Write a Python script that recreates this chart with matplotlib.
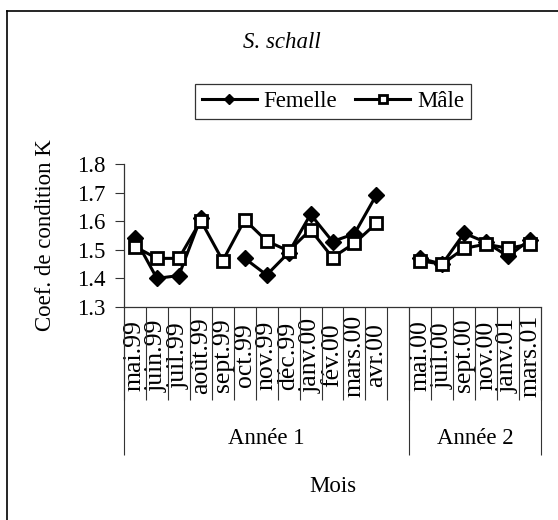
import numpy as np
import matplotlib
matplotlib.use("Agg")
import matplotlib.pyplot as plt
from matplotlib.lines import Line2D

plt.rcParams['font.family'] = ['Liberation Serif', 'DejaVu Serif']

# ---- data ----
months_y1 = ["mai.99", "juin.99", "juil.99", "août.99", "sept.99", "oct.99",
             "nov.99", "déc.99", "janv.00", "fév.00", "mars.00", "avr.00"]
months_y2 = ["mai.00", "juil.00", "sept.00", "nov.00", "janv.01", "mars.01"]
groups = ["Année 1", "Année 2"]

femelle_y1 = [1.54, 1.40, 1.41, 1.612, np.nan, 1.47, 1.412, 1.49, 1.624, 1.529, 1.556, 1.692]
femelle_y2 = [1.47, 1.45, 1.558, 1.526, 1.477, 1.536]
male_y1 = [1.511, 1.47, 1.47, 1.602, 1.462, 1.605, 1.531, 1.496, 1.57, 1.473, 1.523, 1.593]
male_y2 = [1.461, 1.45, 1.505, 1.52, 1.505, 1.52]

yticks = [1.3, 1.4, 1.5, 1.6, 1.7, 1.8]

# ---- layout ----
W, H = 558, 520
fig = plt.figure(figsize=(W / 100, H / 100), dpi=100)
ax_l, ax_r, ax_t, ax_b = 124, 541, 164, 307
ax = fig.add_axes([ax_l / W, 1 - ax_b / H, (ax_r - ax_l) / W, (ax_b - ax_t) / H])

FS = 16.5
FS_CAT = 18.5
n1, n2 = len(months_y1), len(months_y2)
x1 = np.arange(n1)
x2 = np.arange(n2) + n1 + 1  # one blank category between years
ncat = n1 + 1 + n2

lw = 2.2
ax.plot(x1, femelle_y1, color='black', lw=lw, marker='D', ms=8.0,
        mfc='black', mec='black', mew=1.0, zorder=3, label='Femelle')
ax.plot(x2, femelle_y2, color='black', lw=lw, marker='D', ms=8.0,
        mfc='black', mec='black', mew=1.0, zorder=3)
ax.plot(x1, male_y1, color='black', lw=lw, marker='s', ms=8.3,
        mfc='white', mec='black', mew=2.0, zorder=4, label='Mâle')
ax.plot(x2, male_y2, color='black', lw=lw, marker='s', ms=8.3,
        mfc='white', mec='black', mew=2.0, zorder=4)

ax.set_xlim(-0.5, ncat - 0.5)
ax.set_ylim(yticks[0], yticks[-1])
ax.set_yticks(yticks)
ax.set_yticklabels([f"{v:.1f}" for v in yticks], fontsize=FS)
ax.tick_params(axis='y', direction='out', length=6.5, width=0.8, pad=7, color='#333333')

for s in ['top', 'right']:
    ax.spines[s].set_visible(False)
for s in ['left', 'bottom']:
    ax.spines[s].set_color('#333333')
    ax.spines[s].set_linewidth(0.9)

# category labels (major ticks at centres, centred in the label band)
band_px = 93
ax.set_xticks(list(x1) + list(x2))
ax.set_xticklabels(months_y1 + months_y2, rotation=90, fontsize=FS_CAT)
ax.tick_params(axis='x', which='major', length=0, pad=(band_px / 2 + 2) * 0.72)
for lab in ax.get_xticklabels():
    lab.set_va('center')
# separators (minor ticks at boundaries)
ax.set_xticks(np.arange(ncat + 1) - 0.5, minor=True)
ax.tick_params(axis='x', which='minor', direction='out', length=band_px * 0.72,
               width=0.8, color='#333333')

# group separators via secondary axis
sec = ax.secondary_xaxis('bottom')
sec.set_xticks([-0.5, n1 + 0.5, ncat - 0.5])
sec.set_xticklabels([])
sec.tick_params(axis='x', direction='out', length=148 * 0.72, width=0.8, color='#333333')
sec.spines['bottom'].set_visible(False)

# group labels
axh = ax_b - ax_t
centres = [(-0.5 + n1 + 0.5) / 2, (n1 + 0.5 + ncat - 0.5) / 2]
for g, c in zip(groups, centres):
    ax.text(c, -(438 - ax_b) / axh, g, transform=ax.get_xaxis_transform(),
            ha='center', va='center', fontsize=FS)

ax.text(0.5, -(486 - ax_b) / axh, "Mois", transform=ax.transAxes,
        ha='center', va='center', fontsize=FS)

ax.set_ylabel("Coef. de condition K", fontsize=FS)
ax.yaxis.set_label_coords(-(ax_l - 46) / (ax_r - ax_l), 0.5)
ax.yaxis.label.set_va('center')

# title
fig.text(282 / W, 1 - 43 / H, "S. schall", style='italic', fontsize=FS,
         ha='center', va='center')

# legend
leg = fig.legend(loc='center', bbox_to_anchor=(333 / W, 1 - 101.5 / H), ncol=2,
                 fontsize=FS, frameon=True, fancybox=False, handlelength=2.4,
                 handletextpad=0.3, columnspacing=0.8, borderpad=0.3,
                 borderaxespad=0, markerscale=0.7)
leg.get_frame().set_edgecolor('black')
leg.get_frame().set_linewidth(0.9)

# outer frame (top and left edges visible)
fig.add_artist(Line2D([7 / W, 1.0], [1 - 11 / H, 1 - 11 / H], color='black', lw=1.2,
                      transform=fig.transFigure))
fig.add_artist(Line2D([7 / W, 7 / W], [1 - 11 / H, 0.0], color='black', lw=1.2,
                      transform=fig.transFigure))

fig.savefig("out.png", dpi=100)
